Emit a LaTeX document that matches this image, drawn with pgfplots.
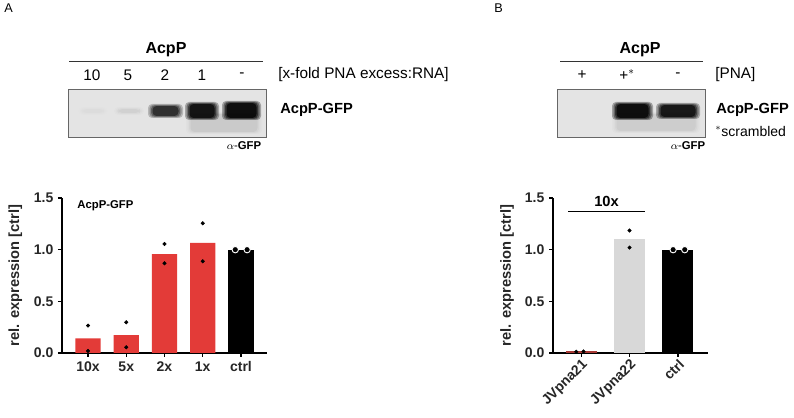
\documentclass[border=0pt]{standalone}
\usepackage{pgfplots}
\pgfplotsset{compat=1.18}
\usepackage{fontspec}
\setmainfont{Liberation Sans}
\definecolor{barred}{HTML}{E33B38}
\definecolor{barred2}{HTML}{A83A36}
\definecolor{bargray}{HTML}{D8D8D8}
\definecolor{blotbg}{HTML}{E4E4E4}
% soft band on the blot: x1,y1,x2,y2 (px), darkness
\newcommand\band[5]{%
 \foreach \k/\o in {0/0.25,1.5/0.3,3/0.4,4.5/0.6}{%
  \fill[black,opacity=#5*\o,rounded corners=3pt] (#1+\k,#2+\k*0.45) rectangle (#3-\k,#4-\k*0.45);}}
\pgfplotsset{
 barax/.style={scale only axis,axis lines=left,axis line style={black,line width=0.8pt,-},
  ymin=0,ymax=1.5,ytick={0,0.5,1.0,1.5},
  yticklabel style={/pgf/number format/fixed,/pgf/number format/fixed zerofill,/pgf/number format/precision=1},
  /pgf/number format/assume math mode=true,
  tick label style={font=\bfseries\fontsize{10.5}{12}\selectfont,text=black!85},
  label style={font=\bfseries\fontsize{11}{12}\selectfont,text=black!85},
  tick align=outside,major tick length=3pt,tick style={black,line width=0.8pt},
  clip=false,ybar,bar shift=0pt,ylabel={rel. expression [ctrl]}},
 dots/.style={only marks,mark=*,mark size=1.3pt,black,forget plot},
 cdots/.style={only marks,mark=*,mark size=2.4pt,fill=black,draw=white,line width=0.7pt,forget plot}}
\begin{document}
\begin{tikzpicture}
\path[use as bounding box] (0,0) rectangle (595.5pt,313.5pt);

% ---------- panel A bars
\begin{axis}[barax,at={(46.5pt,48.75pt)},anchor=south west,width=153.75pt,height=116.25pt,
 xmin=-0.68,xmax=4.68,xtick={0,...,4},xticklabels={10x,5x,2x,1x,ctrl},bar width=0.66,
 ylabel style={at={(axis description cs:-0.228,0.5)},anchor=center}]
\addplot[fill=barred,draw=none] coordinates {(0,0.142)(1,0.174)(2,0.958)(3,1.065)};
\addplot[fill=black,draw=none] coordinates {(4,1.0)};
\addplot[dots] coordinates {(0,0.265)(0,0.02)(1,0.297)(1,0.055)(2,1.055)(2,0.868)(3,1.255)(3,0.887)};
\addplot[cdots] coordinates {(3.85,1.0)(4.16,1.0)};
\node[anchor=west,font=\bfseries\fontsize{8.5}{9}\selectfont] at (axis cs:-0.4,1.43) {AcpP-GFP};
\end{axis}

% ---------- panel B bars
\begin{axis}[barax,at={(414.75pt,48.75pt)},anchor=south west,width=116.25pt,height=116.25pt,
 xmin=-0.58,xmax=2.62,xtick={0,1,2},xticklabels={JVpna21,JVpna22,ctrl},bar width=0.64,
 xticklabel style={rotate=45,anchor=north east,inner sep=0.5pt},
 ylabel style={at={(axis description cs:-0.297,0.5)},anchor=center}]
\addplot[fill=barred2,draw=none] coordinates {(0,0.015)};
\addplot[fill=bargray,draw=none] coordinates {(1,1.10)};
\addplot[fill=black,draw=none] coordinates {(2,1.0)};
\addplot[dots] coordinates {(-0.1,0.012)(0.05,0.015)(1,1.185)(1,1.02)};
\addplot[cdots] coordinates {(1.9,1.0)(2.14,1.0)};
\draw[black,line width=0.8pt] (axis cs:-0.27,1.365) -- (axis cs:1.32,1.365);
\node[font=\bfseries\fontsize{11}{12}\selectfont] at (axis cs:0.525,1.47) {10x};
\end{axis}

% ---------- blots and labels (px coordinates, y downward)
\begin{scope}[x=0.75pt,y=-0.75pt,yshift=313.5pt]
\node[anchor=north west,font=\fontsize{9.5}{10}\selectfont,inner sep=0] at (4,4) {A};
\node[anchor=north west,font=\fontsize{9.5}{10}\selectfont,inner sep=0] at (494,4) {B};
% panel A
\node[font=\bfseries\fontsize{12}{13}\selectfont] at (166,50) {AcpP};
\draw[black!80,line width=0.6pt] (69,61) -- (263,61);
\foreach \xx/\tt in {92/10,128/5,165/2,202/1,242/-}
 \node[font=\fontsize{11.5}{12}\selectfont] at (\xx,75) {\tt};
\node[anchor=west,font=\fontsize{11.5}{12}\selectfont,inner sep=0] at (278,75) {[x-fold PNA excess:RNA]};
\fill[blotbg] (68,89) rectangle (266,137);
\band{186}{112}{262}{134}{0.07}
\band{78}{107}{108}{115}{0.02}
\band{114}{107}{144}{115}{0.05}
\band{148}{104}{183}{118}{0.8}
\band{185}{102}{219}{120}{1.1}
\band{222}{101}{261}{120}{1.2}
\draw[black!60,line width=0.6pt] (68,89) rectangle (266,137);
\node[anchor=west,font=\bfseries\fontsize{11}{12}\selectfont,inner sep=0] at (280,110) {AcpP-GFP};
\node[font=\fontsize{8.5}{9}\selectfont] at (244,146) {$\alpha$-\textbf{GFP}};
% panel B
\node[font=\bfseries\fontsize{12}{13}\selectfont] at (640,50) {AcpP};
\draw[black!80,line width=0.6pt] (560,61) -- (703,61);
\foreach \xx/\tt in {582/+,627/{+$^*$},678/-}
 \node[font=\fontsize{11.5}{12}\selectfont] at (\xx,75) {\tt};
\node[anchor=west,font=\fontsize{11.5}{12}\selectfont,inner sep=0] at (715,75) {[PNA]};
\fill[blotbg] (557,89) rectangle (705,137);
\band{612}{112}{700}{133}{0.06}
\band{612}{102}{653}{120}{1.2}
\band{656}{103}{700}{119}{1.05}
\draw[black!60,line width=0.6pt] (557,89) rectangle (705,137);
\node[anchor=west,font=\bfseries\fontsize{11}{12}\selectfont,inner sep=0] at (716,110) {AcpP-GFP};
\node[anchor=west,font=\fontsize{10.5}{11}\selectfont,inner sep=0] at (715,131) {$^*$scrambled};
\node[font=\fontsize{8.5}{9}\selectfont] at (688,146) {$\alpha$-\textbf{GFP}};
\end{scope}
\end{tikzpicture}
\end{document}
